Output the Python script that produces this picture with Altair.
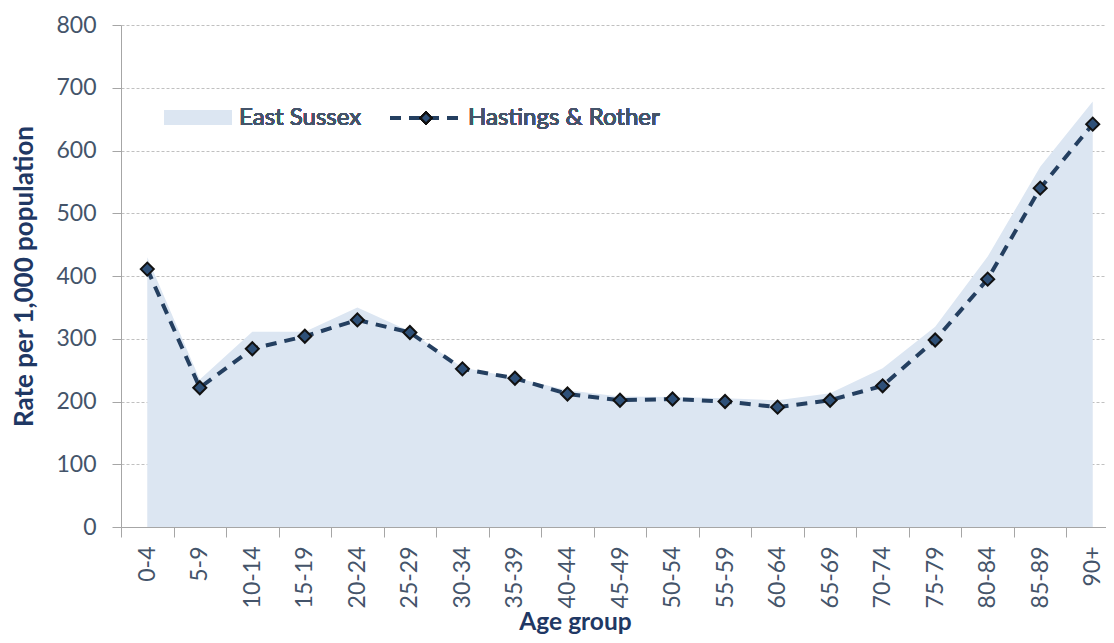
import altair as alt
import pandas as pd

age_groups = ["0-4", "5-9", "10-14", "15-19", "20-24", "25-29", "30-34", "35-39",
              "40-44", "45-49", "50-54", "55-59", "60-64", "65-69", "70-74", "75-79",
              "80-84", "85-89", "90+"]
east_sussex = [430, 235, 311, 311, 350, 312, 254, 238, 218, 208, 207, 205, 202,
               213, 253, 319, 431, 574, 678]
hastings_rother = [411, 222, 284, 304, 330, 310, 252, 237, 212, 202, 204, 200, 191,
                   202, 225, 298, 395, 540, 642]
y_ticks = [0, 100, 200, 300, 400, 500, 600, 700, 800]

df = pd.DataFrame({"age": age_groups, "es": east_sussex, "hr": hastings_rother})

FONT = "Lato"
TEXT = "#44546a"
TITLE = "#1f3864"
AXIS = "#a6a6a6"
AREA = "#dce6f2"
LINE = "#243f60"
MARK = "#2e5078"

xscale = alt.Scale(type="band", paddingInner=0, paddingOuter=0, range=[0, 998])
yscale = alt.Scale(domain=[0, 800])

x_axis = alt.Axis(
    title="Age group", labelAngle=270, tickBand="extent", labelAlign="right",
    labelBaseline="middle", labelFont=FONT, labelFontSize=23, labelColor=TEXT,
    labelPadding=9, tickSize=10, tickColor=AXIS, domainColor=AXIS, grid=False,
    titleFont=FONT, titleFontSize=24.5, titleFontWeight="bold", titleColor=TITLE,
    titleX=454, titleY=102, titleBaseline="alphabetic", titleAlign="center",
)
y_axis = alt.Axis(
    title="Rate per 1,000 population", values=y_ticks, labelFont=FONT,
    labelFontSize=23, labelColor=TEXT, labelPadding=16, tickSize=9, tickColor=AXIS,
    domainColor=AXIS, grid=True, gridColor="#c0c0c0", gridDash=[3, 2],
    titleFont=FONT, titleFontSize=26, titleFontWeight="bold", titleColor=TITLE,
    titleX=-97, titleY=251, titleAngle=270, titleBaseline="middle", titleAlign="center",
)

base = alt.Chart(df)

area = base.mark_area(color=AREA, opacity=1).encode(
    x=alt.X("age:N", sort=age_groups, bandPosition=0.5, scale=xscale, axis=x_axis),
    y=alt.Y("es:Q", scale=yscale, axis=y_axis),
)

line = base.mark_line(color=LINE, strokeWidth=4, strokeDash=[11, 8]).encode(
    x=alt.X("age:N", sort=age_groups, bandPosition=0.5, scale=xscale),
    y=alt.Y("hr:Q", scale=yscale),
)

points = base.mark_point(shape="diamond", filled=True, fill=MARK, stroke="#111111",
                         strokeWidth=2, size=170, opacity=1).encode(
    x=alt.X("age:N", sort=age_groups, bandPosition=0.5, scale=xscale),
    y=alt.Y("hr:Q", scale=yscale),
)

# legend (manual, inside the plot area)
leg_swatch = base.mark_rect(color=AREA).encode(
    x=alt.value(43), x2=alt.value(111), y=alt.value(85), y2=alt.value(100)
)
leg_text1 = base.mark_text(align="left", baseline="middle", font=FONT, fontSize=24,
                           color=TEXT).encode(
    x=alt.value(118), y=alt.value(93), text=alt.value("East Sussex")
)
leg_line = base.mark_rule(color=LINE, strokeWidth=4, strokeDash=[11, 8]).encode(
    x=alt.value(269), x2=alt.value(341), y=alt.value(93)
)
leg_point = base.mark_point(shape="diamond", filled=True, fill=MARK, stroke="#111111",
                            strokeWidth=2, size=120, opacity=1).encode(
    x=alt.value(305), y=alt.value(93)
)
leg_text2 = base.mark_text(align="left", baseline="middle", font=FONT, fontSize=24,
                           color=TEXT).encode(
    x=alt.value(347), y=alt.value(93), text=alt.value("Hastings & Rother")
)

chart = alt.layer(
    area, line, points, leg_swatch, leg_text1, leg_line, leg_point, leg_text2
).properties(
    width=985, height=502,
    autosize=alt.AutoSizeParams(type="none"),
    padding={"left": 113, "top": 17, "right": 0, "bottom": 108},
).configure_view(stroke=None)

chart.save("out.html", embed_options={"renderer": "svg", "actions": False})
